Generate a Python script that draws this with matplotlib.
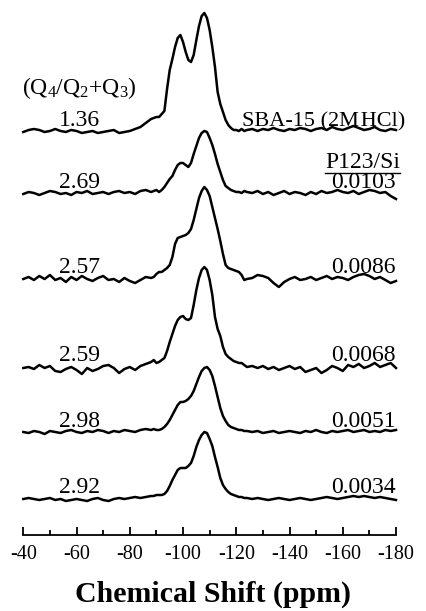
import matplotlib
matplotlib.use("Agg")
import matplotlib.pyplot as plt
from matplotlib.lines import Line2D

plt.rcParams['font.family'] = ['Liberation Serif', 'DejaVu Serif']
plt.rcParams['mathtext.fontset'] = 'custom'
plt.rcParams['mathtext.rm'] = 'Liberation Serif'
plt.rcParams['mathtext.it'] = 'Liberation Serif:italic'
plt.rcParams['mathtext.bf'] = 'Liberation Serif:bold'

# ---- data -------------------------------------------------------------
ppm = ([-40, -42, -44, -46, -48, -50, -52, -54, -56, -58, -60, -62, -64,
        -66, -68, -70, -72, -74, -76, -78, -80, -82, -84, -86, -88] +
       [-89, -90, -91, -92, -93, -94, -95, -96, -97, -98, -99, -100, -101,
        -102, -103, -104, -105, -106, -107, -108, -109, -110, -111, -112,
        -113, -114, -115, -116, -117, -118, -119, -120, -121, -122, -123, -124] +
       [-126, -128, -130, -132, -134, -136, -138, -140, -142, -144, -146,
        -148, -150, -152, -154, -156, -158, -160, -162, -164, -166, -168,
        -170, -172, -174, -176, -178, -180])

int_sba = ([0, 2, 3, 2, 0, 1, 3, 1, 0, 2, 1, -1, 0, 1, -1, 0, 1, 2, -1, 0, 1, 3, 5, 9, 13] +
           [14, 15, 15, 18, 21, 43, 62, 73, 85, 94, 97, 90, 80, 72, 70, 77, 92, 106,
            116, 119, 114, 102, 85, 65, 40, 28, 20, 12, 7, 4, 2, 2, 1, 3, 1, 2] +
           [3, 1, 3, 2, 4, 2, 1, 3, 2, 4, 3, 1, 3, 4, 2, 5, 3, 2, 4, 6, 4, 2, 3, 5, 2, 1, 3, 2])
int_0103 = ([0, 2, 1, -1, 1, 3, 2, 0, 1, -1, 2, 1, 3, 0, 1, 2, 0, 2, 3, 1, 2, 0, 3, 4, 2] +
            [3, 4, 2, 4, 7, 11, 15, 18, 24, 29, 31, 31, 29, 27, 31, 40, 48, 56, 61, 63,
             62, 56, 49, 40, 30, 22, 14, 8, 6, 4, 3, 2, 2, 1, 3, 2] +
            [1, 3, 0, 2, -1, 1, 3, 0, 2, 1, -1, 2, 0, 3, 1, 2, 4, 2, 1, 3, 0, 2, 4, 3, 1, 2, -2, -5])
int_0086 = ([2, 4, 1, 5, 2, 6, 1, 3, -1, 4, 1, 5, 2, 0, 3, 5, 1, 2, -1, 3, 0, -2, 1, 4, 3] +
            [4, 7, 9, 9, 11, 13, 16, 24, 37, 43, 44, 45, 46, 48, 52, 61, 72, 83, 90, 94,
             91, 85, 74, 63, 52, 40, 27, 16, 13, 12, 11, 10, 9, 6, 1, 2] +
            [3, 6, 5, 3, -2, -6, -1, 2, 4, 1, 2, 4, 1, 3, 5, 2, 4, 3, 1, 4, 6, 7, 5, 2, 4, 1, -2, 0])
int_0068 = ([1, 2, 0, 4, 1, 3, -2, -3, 0, 2, -1, -5, 1, -2, 0, 3, 4, 1, -4, 0, 2, -1, 3, 5, 7] +
            [9, 6, 7, 9, 11, 18, 27, 35, 43, 49, 52, 53, 50, 49, 51, 64, 79, 91, 99, 102,
             99, 89, 74, 52, 40, 33, 22, 15, 12, 10, 8, 7, 6, 6, 4, 2] +
            [3, 1, 3, 0, 2, -1, 1, 3, 0, 2, -3, -1, 1, -4, -1, 3, 1, -2, 4, 2, 5, 1, 3, 6, 2, 4, 6, 1])
int_0051 = ([0, -1, 1, 0, -2, 1, 0, -1, 1, 2, 0, -1, 1, 0, 2, 1, -1, 1, 0, 2, 1, 0, 2, 3, 2] +
            [3, 2, 2, 3, 5, 8, 12, 17, 22, 27, 30, 30, 31, 33, 36, 41, 48, 55, 61, 64,
             65, 62, 56, 46, 35, 24, 16, 11, 7, 5, 4, 3, 2, 2, 1, 1] +
            [0, 1, -1, 0, 1, -1, 0, 1, 0, -1, 1, 0, 2, 0, -1, 1, 0, 1, 2, 0, 1, 2, 0, 1, 0, 2, 1, 2])
int_0034 = ([0, 1, 0, -1, 0, 1, -1, 0, -2, -1, 0, -1, -2, 0, 1, -1, -2, 0, 1, 0, 1, 2, 1, 2, 3] +
            [3, 4, 4, 4, 5, 8, 13, 19, 24, 29, 31, 31, 31, 33, 36, 43, 52, 59, 64, 67,
             66, 60, 53, 42, 32, 21, 14, 10, 7, 5, 4, 3, 2, 2, 1, 1] +
            [0, 1, 0, -1, 0, 1, 0, -1, 0, 1, 0, -1, 0, 1, 2, 1, 0, 1, 2, 3, 2, 3, 2, 1, 2, 1, 0, -1])

spectra = [int_sba, int_0103, int_0086, int_0068, int_0051, int_0034]
offsets = [403, 341, 254, 166, 103, 36]
ratio_labels = ['1.36', '2.69', '2.57', '2.59', '2.98', '2.92']
sample_labels = ['SBA-15 (2M\u200aHCl)', '0.0103', '0.0086', '0.0068', '0.0051', '0.0034']
label_y = [409, 347, 262, 174, 108, 42]
xticks = [-40, -60, -80, -100, -120, -140, -160, -180]

# ---- figure -----------------------------------------------------------
W, H = 427, 611
fig = plt.figure(figsize=(W / 100, H / 100), dpi=100)
ax_left, ax_right, ax_bot, ax_top = 23.3, 396.0, 535.0, 0.0
ax = fig.add_axes([ax_left / W, (H - ax_bot) / H, (ax_right - ax_left) / W, (ax_bot - ax_top) / H])
ax.set_xlim(-40, -180)
ax.set_ylim(0, 535)

for vals, off in zip(spectra, offsets):
    ax.plot(ppm, [v + off for v in vals], color='black', lw=1.8,
            solid_joinstyle='round', clip_on=False)

FS = 17
for lab, y in zip(ratio_labels, label_y):
    ax.text(-61, y, lab, ha='center', va='baseline', fontsize=FS)
for i, (lab, y) in enumerate(zip(sample_labels, label_y)):
    if i == 0:
        ax.text(-183.3, y, lab, ha='right', va='baseline', fontsize=16)
    else:
        ax.text(-180, y, lab, ha='right', va='baseline', fontsize=FS)

ax.text(-61, 440.7, r'(Q$_\mathregular{4}$/Q$_\mathregular{2}$+Q$_\mathregular{3}$)',
        ha='center', va='baseline', fontsize=FS)
ps = ax.text(-181.5, 367, 'P123/Si', ha='right', va='baseline', fontsize=FS)

# spines / ticks
for s in ['top', 'left', 'right']:
    ax.spines[s].set_visible(False)
ax.spines['bottom'].set_linewidth(1.3)
ax.set_yticks([])
ax.set_xticks(xticks)
ax.set_xticklabels([str(t) for t in xticks])
ax.set_xticks([-50, -70, -90, -110, -130, -150, -170], minor=True)
ax.tick_params(axis='x', which='major', direction='in', length=6, width=1.3,
               labelsize=14.5, pad=7)
ax.tick_params(axis='x', which='minor', direction='in', length=3.8, width=1.3)

ax.set_xlabel('Chemical Shift (ppm)', fontsize=21.5, fontweight='bold', va='baseline')
ax.xaxis.set_label_coords(0.5077, (535 - 601.7) / 535)

# underline for P123/Si (5 px below its baseline)
fig.canvas.draw()
bb = ps.get_window_extent()
y_ul = H - 173.0
fig.add_artist(Line2D([bb.x0 / W, bb.x1 / W], [y_ul / H, y_ul / H],
                      transform=fig.transFigure, color='black', lw=1.0))

fig.savefig('out.png', dpi=100)
